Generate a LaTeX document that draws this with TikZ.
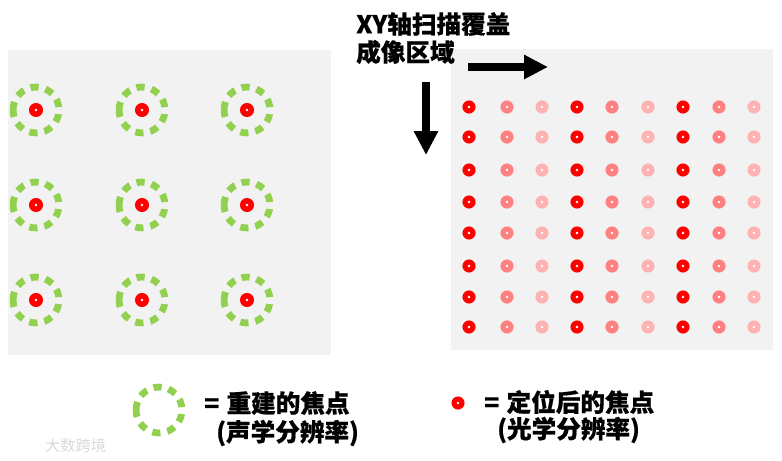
\documentclass[tikz,border=0pt]{standalone}
\usepackage{fontspec}
\newfontfamily\cjk{Noto Sans CJK SC}[BoldFeatures={FakeBold=0.6}]
\usetikzlibrary{arrows.meta}
\definecolor{panelgray}{HTML}{F2F2F2}
\definecolor{ringgreen}{HTML}{92D050}

\begin{document}
\begin{tikzpicture}[x=0.03cm, y=-0.03cm,
	every node/.style={font=\cjk\bfseries\fontsize{21}{25}\selectfont, inner sep=0pt},
	ring/.style={ringgreen, line width=5.8pt, dash pattern=on 7pt off 6pt},
	bigarrow/.style={line width=6pt, -{Triangle[width=19.5pt, length=20.4pt]}}]
	\useasboundingbox (0,0) rectangle (782,461);
	% panels
	\fill[panelgray] (8,50) rectangle (331,355);
	\fill[panelgray] (451,49) rectangle (773,350);
	% left panel: reconstructed foci
	\foreach \x in {36,142,247} {
		\foreach \y in {110,205,300} {
			\draw[ring] (\x,\y) ++(-19.6pt,0) arc[start angle=180, end angle=-180, radius=19.6pt];
			\fill[red] (\x,\y) circle (6pt);
			\fill[white] (\x,\y) circle (1.2pt);
		}
	}
	% right panel: localized foci
	\foreach \x/\c in {469/red, 507/red!50, 542/red!30, 577/red, 612/red!50, 648/red!30, 683/red, 719/red!50, 754/red!30} {
		\foreach \y in {107,137,170,202,233,266,297,327} {
			\fill[\c] (\x,\y) circle (5.6pt);
			\fill[white] (\x,\y) circle (1.1pt);
		}
	}
	% scan arrows
	\node[anchor=west] (scantop) at (356,24) {XY轴扫描覆盖};
	\node[anchor=west] (scanbot) at (356,52) {成像区域};
	\coordinate (xstart) at (468,67);
	\coordinate (xend) at (548,67);
	\coordinate (ystart) at (426,82);
	\coordinate (yend) at (426,155);
	\draw[bigarrow] (xstart) -- (xend);
	\draw[bigarrow] (ystart) -- (yend);
	% legend
	\draw[ring] (159,410) ++(-19.6pt,0) arc[start angle=180, end angle=-180, radius=19.6pt];
	\node[anchor=west] (acoustic) at (204,403) {=\hspace{0.3em}重建的焦点};
	\node[anchor=west] (acousticres) at (216,433) {(声学分辨率)};
	\fill[red] (458,403) circle (5.6pt);
	\fill[white] (458,403) circle (1.1pt);
	\node[anchor=west] (optical) at (484,402) {=\hspace{0.3em}定位后的焦点};
	\node[anchor=west] (opticalres) at (497,430) {(光学分辨率)};
	\node[anchor=west, font=\cjk\fontsize{13}{15}\selectfont, text=gray!30] (mark) at (45,446) {大数跨境};
\end{tikzpicture}
\end{document}
